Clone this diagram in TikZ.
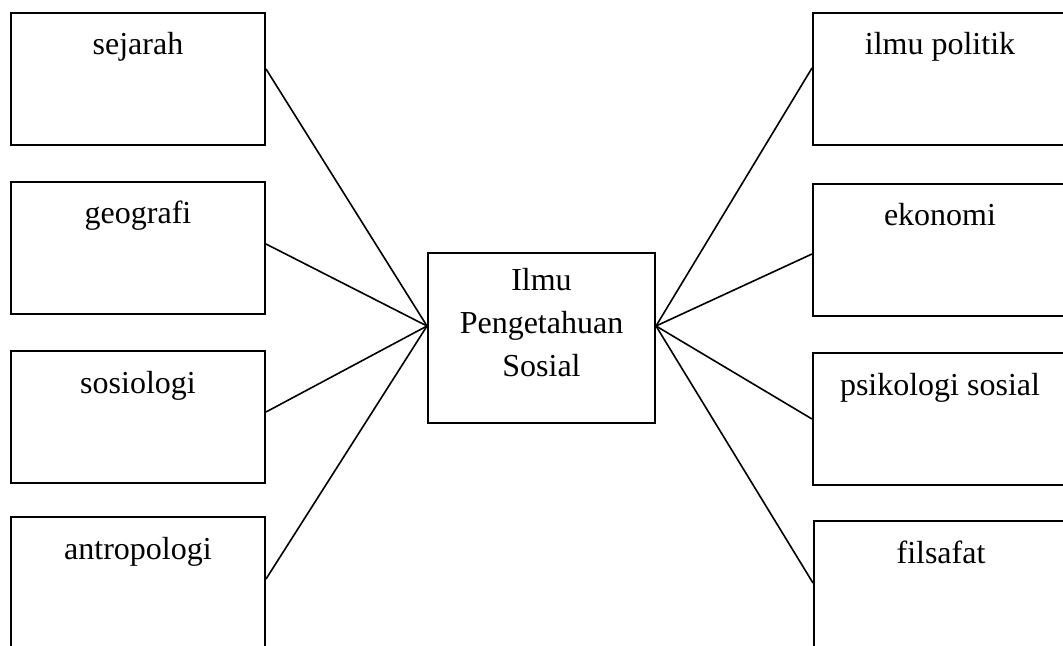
\documentclass[tikz,border=0pt]{standalone}
\usepackage{fontspec}
\setmainfont{Liberation Serif}
\usepackage{tikz}
\usetikzlibrary{positioning}

\newcommand{\teks}{\fontsize{16pt}{21.3pt}\selectfont}

\begin{document}
\begin{tikzpicture}[x=0.5pt, y=-0.5pt,
  kotak/.style={draw, line width=1pt, minimum width=127pt, minimum height=66pt},
  judul/.style={label={[anchor=base, yshift=-21.5pt, font=\teks, align=center]north:#1}},
  garis/.style={line width=0.8pt}]
\clip (0,0) rectangle (1063,646);

% Left boxes
\node[kotak, judul=sejarah] (sej) at (138,79) {};
\node[kotak, judul=geografi] (geo) at (138,248) {};
\node[kotak, judul=sosiologi] (sos) at (138,417) {};
\node[kotak, judul=antropologi] (ant) at (138,583) {};

% Right boxes
\node[kotak, judul=ilmu politik] (pol) at (940,79) {};
\node[kotak, judul=ekonomi] (eko) at (940,250) {};
\node[kotak, judul=psikologi sosial] (psi) at (940,419) {};
\node[kotak, judul=filsafat] (fil) at (941,587) {};

% Centre (base of a multi-line label is its last line)
\node[kotak, minimum width=113.5pt, minimum height=85pt,
  label={[anchor=base, yshift=-62pt, font=\teks, align=center]north:Ilmu\\Pengetahuan\\Sosial}] (ips) at (541.5,338) {};
\coordinate (hubkiri) at ([yshift=6pt]ips.west);
\coordinate (hubkanan) at ([yshift=6pt]ips.east);

% Connections
\draw[garis] ([yshift=5pt]sej.east) -- (hubkiri);
\draw[garis] ([yshift=2pt]geo.east) -- (hubkiri);
\draw[garis] ([yshift=2.5pt]sos.east) -- (hubkiri);
\draw[garis] ([yshift=2pt]ant.east) -- (hubkiri);
\draw[garis] ([yshift=5.5pt]pol.west) -- (hubkanan);
\draw[garis] ([yshift=-2pt]eko.west) -- (hubkanan);
\draw[garis] (psi.west) -- (hubkanan);
\draw[garis] ([yshift=2pt]fil.west) -- (hubkanan);
\end{tikzpicture}
\end{document}
